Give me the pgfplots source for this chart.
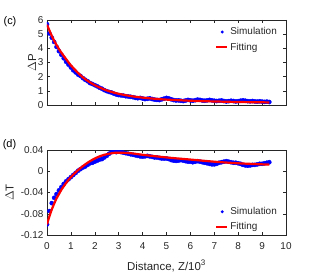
\documentclass[border=0pt]{standalone}
\usepackage{pgfplots}
\pgfplotsset{compat=1.18}
\usepackage{fontspec}
\setmainfont{Liberation Sans}
\definecolor{axgray}{rgb}{0.15,0.15,0.15}
\pgfplotsset{
  myax/.style={
    scale only axis, width=239bp, height=85bp,
    xmin=0, xmax=10, xtick={0,1,...,10},
    tick align=inside, axis line style={axgray, line width=0.5pt},
    major tick style={axgray, line width=0.5pt}, major tick length=3bp,
    tick label style={font=\fontsize{10}{11}\selectfont, text=axgray},
    label style={font=\fontsize{11.5}{12}\selectfont, text=axgray},
    /pgf/number format/assume math mode=true,
    clip marker paths=true,
    legend style={draw=none, fill=none, font=\fontsize{10}{11}\selectfont, text=axgray,
      row sep=2.5bp, inner sep=1bp},
    legend cell align=left,
  },
  simstyle/.style={only marks, mark=*, mark size=2.1bp, color=blue, draw=none, fill=blue},
  fitstyle/.style={no marks, color=red, line width=2.2bp},
}
\begin{document}
\begin{tikzpicture}
\useasboundingbox (0,0) rectangle (316bp,273bp);
\node[font=\fontsize{11}{12}\selectfont, text=black] at (10bp,251.3bp) {(c)};
\node[font=\fontsize{11}{12}\selectfont, text=black] at (9.5bp,128bp) {(d)};
\begin{axis}[myax, at={(47bp,168bp)}, anchor=south west,
  ymin=0, ymax=6, ytick={0,1,...,6}, xticklabels={},
  ylabel={$\Delta$P},
  ylabel style={at={(rel axis cs:0,0.5)}, anchor=center, yshift=15bp},
  legend style={at={(rel axis cs:0.975,0.947)}, anchor=north east},
  legend image code/.code={\draw[#1] (0bp,0bp) -- (11bp,0bp);},
]
\addplot[simstyle, legend image code/.code={\fill[blue] (6bp,0bp) circle (1.6bp);}] coordinates {
(0.0,5.70)(0.1,5.05)(0.2,4.75)(0.3,4.45)(0.4,4.10)(0.5,3.80)(0.6,3.55)(0.7,3.30)(0.8,3.05)(0.9,2.85)
(1.0,2.65)(1.1,2.45)(1.2,2.30)(1.3,2.15)(1.4,2.05)(1.5,1.90)(1.6,1.78)(1.7,1.68)(1.8,1.55)(1.9,1.48)
(2.0,1.40)(2.1,1.32)(2.2,1.22)(2.3,1.15)(2.4,1.05)(2.5,0.98)(2.6,0.92)(2.7,0.88)(2.8,0.80)(2.9,0.74)
(3.0,0.70)(3.1,0.68)(3.2,0.66)(3.3,0.62)(3.4,0.60)(3.5,0.58)(3.6,0.55)(3.7,0.50)(3.8,0.48)(3.9,0.50)
(4.0,0.46)(4.1,0.42)(4.2,0.44)(4.3,0.47)(4.4,0.42)(4.5,0.38)(4.6,0.36)(4.7,0.35)(4.8,0.40)(4.9,0.45)
(5.0,0.50)(5.1,0.46)(5.2,0.40)(5.3,0.35)(5.4,0.32)(5.5,0.33)(5.6,0.30)(5.7,0.28)(5.8,0.32)(5.9,0.36)
(6.0,0.33)(6.1,0.30)(6.2,0.34)(6.3,0.38)(6.4,0.36)(6.5,0.32)(6.6,0.30)(6.7,0.33)(6.8,0.36)(6.9,0.33)
(7.0,0.30)(7.1,0.28)(7.2,0.30)(7.3,0.32)(7.4,0.28)(7.5,0.25)(7.6,0.27)(7.7,0.30)(7.8,0.28)(7.9,0.25)
(8.0,0.27)(8.1,0.30)(8.2,0.33)(8.3,0.30)(8.4,0.27)(8.5,0.26)(8.6,0.28)(8.7,0.25)(8.8,0.24)(8.9,0.26)
(9.0,0.24)(9.1,0.22)(9.2,0.24)(9.3,0.21)
};
\addlegendentry{Simulation}
\addplot[fitstyle, smooth] coordinates {
(0,5.67)(0.25,4.70)(0.5,3.95)(0.75,3.35)(1.0,2.80)(1.25,2.35)(1.5,1.95)(1.75,1.65)(2.0,1.40)
(2.25,1.20)(2.5,1.03)(2.75,0.90)(3.0,0.79)(3.5,0.63)(4.0,0.52)(4.5,0.44)(5.0,0.38)(5.5,0.34)
(6.0,0.30)(6.5,0.27)(7.0,0.25)(7.5,0.23)(8.0,0.21)(8.5,0.20)(9.0,0.19)(9.3,0.18)
};
\addlegendentry{Fitting}
\end{axis}
\begin{axis}[myax, at={(47bp,38bp)}, anchor=south west,
  ymin=-0.12, ymax=0.04, ytick={-0.12,-0.08,-0.04,0,0.04},
  yticklabels={-0.12,-0.08,-0.04,0,0.04},
  xticklabel style={yshift=-4bp},
  ylabel={$\Delta$T}, xlabel={Distance, Z/10\textsuperscript{3}},
  ylabel style={at={(rel axis cs:0,0.5)}, anchor=center, yshift=37.5bp},
  xlabel style={at={(rel axis cs:0.5,0)}, anchor=base, yshift=-35bp},
  legend style={at={(rel axis cs:0.975,0.005)}, anchor=south east},
  legend image code/.code={\draw[#1] (0bp,0bp) -- (11bp,0bp);},
]
\addplot[simstyle, legend image code/.code={\fill[blue] (6bp,0bp) circle (1.6bp);}] coordinates {
(0.0,-0.100)(0.1,-0.075)(0.2,-0.060)(0.3,-0.050)(0.4,-0.043)(0.5,-0.036)(0.6,-0.030)(0.7,-0.024)(0.8,-0.019)(0.9,-0.015)
(1.0,-0.011)(1.1,-0.007)(1.2,-0.003)(1.3,0.001)(1.4,0.004)(1.5,0.007)(1.6,0.009)(1.7,0.012)(1.8,0.015)(1.9,0.016)
(2.0,0.018)(2.1,0.020)(2.2,0.022)(2.3,0.023)(2.4,0.026)(2.5,0.029)(2.6,0.033)(2.7,0.036)(2.8,0.037)(2.9,0.036)
(3.0,0.037)(3.1,0.036)(3.2,0.035)(3.3,0.034)(3.4,0.033)(3.5,0.032)(3.6,0.031)(3.7,0.030)(3.8,0.029)(3.9,0.028)
(4.0,0.0275)(4.1,0.028)(4.2,0.029)(4.3,0.028)(4.4,0.027)(4.5,0.026)(4.6,0.026)(4.7,0.025)(4.8,0.024)(4.9,0.024)
(5.0,0.024)(5.1,0.023)(5.2,0.021)(5.3,0.020)(5.4,0.0195)(5.5,0.020)(5.6,0.021)(5.7,0.020)(5.8,0.019)(5.9,0.018)
(6.0,0.018)(6.1,0.017)(6.2,0.018)(6.3,0.019)(6.4,0.018)(6.5,0.017)(6.6,0.016)(6.7,0.015)(6.8,0.014)(6.9,0.013)
(7.0,0.013)(7.1,0.014)(7.2,0.016)(7.3,0.017)(7.4,0.018)(7.5,0.019)(7.6,0.018)(7.7,0.017)(7.8,0.016)(7.9,0.016)
(8.0,0.015)(8.1,0.014)(8.2,0.012)(8.3,0.011)(8.4,0.0105)(8.5,0.011)(8.6,0.012)(8.7,0.012)(8.8,0.013)(8.9,0.014)
(9.0,0.014)(9.1,0.015)(9.2,0.016)(9.3,0.017)
};
\addlegendentry{Simulation}
\addplot[fitstyle, smooth] coordinates {
(0,-0.100)(0.1,-0.085)(0.2,-0.072)(0.3,-0.061)(0.4,-0.051)(0.5,-0.043)(0.6,-0.035)(0.8,-0.022)
(1.0,-0.011)(1.2,-0.002)(1.4,0.006)(1.6,0.013)(1.8,0.019)(2.0,0.024)(2.2,0.028)(2.4,0.031)
(2.6,0.033)(2.8,0.0345)(3.0,0.035)(3.3,0.0345)(3.6,0.0335)(4.0,0.031)(5.0,0.026)(6.0,0.022)
(7.0,0.018)(8.0,0.015)(9.0,0.013)(9.3,0.0125)
};
\addlegendentry{Fitting}
\end{axis}
\end{tikzpicture}
\end{document}
